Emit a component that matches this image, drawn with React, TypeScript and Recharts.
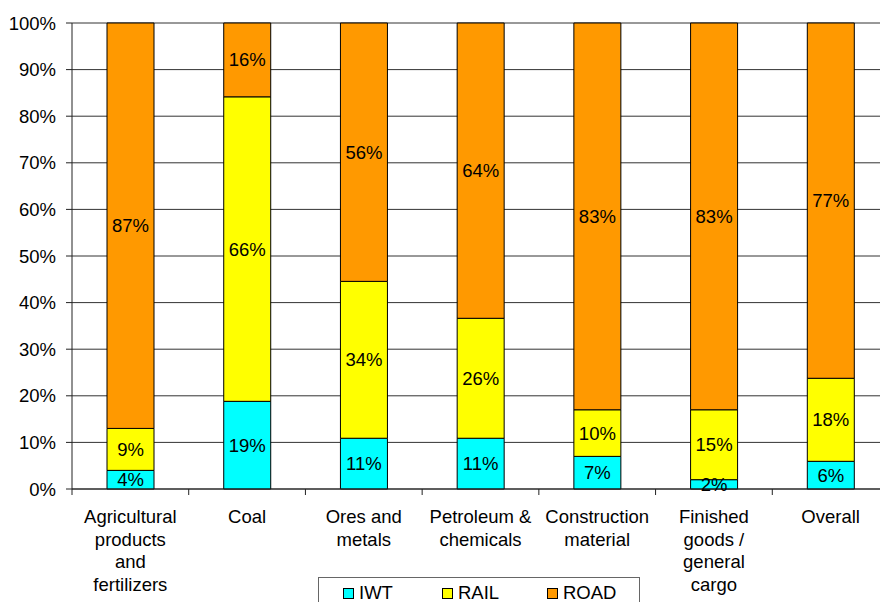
import { Bar, BarChart, CartesianGrid, LabelList, Legend, XAxis, YAxis } from "recharts";

// Modal share of freight traffic by commodity group (percent of tonnage)
const CATEGORIES = [
  "Agricultural\nproducts\nand\nfertilizers",
  "Coal",
  "Ores and\nmetals",
  "Petroleum &\nchemicals",
  "Construction\nmaterial",
  "Finished\ngoods /\ngeneral\ncargo",
  "Overall",
];
const IWT = [4, 19, 11, 11, 7, 2, 6];
const RAIL = [9, 66, 34, 26, 10, 15, 18];
const ROAD = [87, 16, 56, 64, 83, 83, 77];
const Y_TICKS = [0, 0.1, 0.2, 0.3, 0.4, 0.5, 0.6, 0.7, 0.8, 0.9, 1];

const SERIES = [
  { key: "IWT", color: "#00FFFF" },
  { key: "RAIL", color: "#FFFF00" },
  { key: "ROAD", color: "#FF9900" },
];

const FONT = "Arial, 'Liberation Sans', sans-serif";
const CHART_W = 900;
const CHART_H = 602;
const MARGIN = { top: 23, right: 11, bottom: 23, left: 0 };
const Y_AXIS_W = 72;
const X_AXIS_H = 90;
const BAND_W = (CHART_W - MARGIN.left - MARGIN.right - Y_AXIS_W) / CATEGORIES.length;

const data = CATEGORIES.map((name, i) => ({
  name,
  IWT: IWT[i],
  RAIL: RAIL[i],
  ROAD: ROAD[i],
}));

function CategoryTick(props: any) {
  const { x, y, payload } = props;
  const lines = String(payload.value).split("\n");
  const left = x - BAND_W / 2;
  return (
    <g>
      <line x1={left} x2={left} y1={y} y2={y + 6} stroke="#222" strokeWidth={1} />
      <text x={x} y={y + 34} textAnchor="middle" fontSize={18.5} fontFamily={FONT} fill="#000">
        {lines.map((line, i) => (
          <tspan key={i} x={x} dy={i === 0 ? 0 : 22.5}>
            {line}
          </tspan>
        ))}
      </text>
    </g>
  );
}

function LegendBox() {
  return (
    <div
      style={{
        width: 320,
        height: 34,
        border: "1px solid #666",
        background: "#fff",
        position: "relative",
        fontFamily: FONT,
        fontSize: 18.5,
        color: "#000",
      }}
    >
      {SERIES.map((s, i) => (
        <div
          key={s.key}
          style={{
            position: "absolute",
            left: [24, 123, 228][i],
            top: 5,
            display: "flex",
            alignItems: "center",
            lineHeight: "20px",
          }}
        >
          <span
            style={{
              display: "inline-block",
              width: 9,
              height: 9,
              background: s.color,
              border: "1px solid #000",
              marginRight: 5,
            }}
          />
          <span>{s.key}</span>
        </div>
      ))}
    </div>
  );
}

export default function App() {
  return (
    <div
      style={{
        position: "absolute",
        left: 0,
        top: 0,
        width: 880,
        height: 602,
        overflow: "hidden",
        background: "#fff",
      }}
    >
      <BarChart
        width={CHART_W}
        height={CHART_H}
        data={data}
        margin={MARGIN}
        stackOffset="expand"
        barCategoryGap="30%"
      >
        <CartesianGrid vertical={false} stroke="#333" strokeWidth={1} />
        <XAxis
          dataKey="name"
          height={X_AXIS_H}
          interval={0}
          tickSize={0}
          tickMargin={0}
          tick={<CategoryTick />}
          axisLine={{ stroke: "#222" }}
        />
        <YAxis
          width={Y_AXIS_W}
          domain={[0, 1]}
          ticks={Y_TICKS}
          tickFormatter={(v: number) => `${Math.round(v * 100)}%`}
          tick={{ fontSize: 18.5, fill: "#000", fontFamily: FONT }}
          tickSize={6}
          tickMargin={10}
          axisLine={{ stroke: "#222" }}
          tickLine={{ stroke: "#222" }}
        />
        <Legend
          verticalAlign="middle"
          layout="horizontal"
          content={() => <LegendBox />}
          wrapperStyle={{ left: 318, top: 577, width: 322, bottom: "auto" }}
        />
        {SERIES.map((s) => (
          <Bar
            key={s.key}
            dataKey={s.key}
            stackId="share"
            fill={s.color}
            stroke="#000"
            strokeWidth={1}
            isAnimationActive={false}
          >
            <LabelList
              dataKey={s.key}
              position="center"
              formatter={(v: any) => `${v}%`}
              fill="#000"
              fontSize={18.5}
              fontFamily={FONT}
            />
          </Bar>
        ))}
      </BarChart>
    </div>
  );
}
